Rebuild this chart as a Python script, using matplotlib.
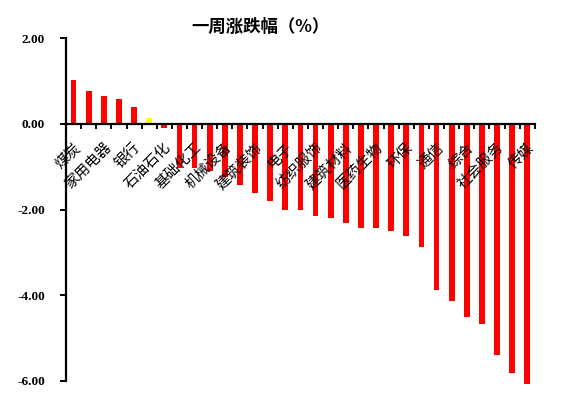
import numpy as np
import matplotlib.pyplot as plt
from matplotlib.font_manager import FontProperties

plt.rcParams['font.family'] = ['Noto Sans CJK SC', 'DejaVu Sans']

industries = ['煤炭', '钢铁', '家用电器', '有色金属', '银行', '非银金融', '石油石化',
              '公用事业', '基础化工', '交通运输', '机械设备', '食品饮料', '建筑装饰',
              '农林牧渔', '电子', '汽车', '纺织服饰', '轻工制造', '建筑材料', '房地产',
              '医药生物', '商贸零售', '环保', '电力设备', '通信', '计算机', '综合',
              '国防军工', '社会服务', '美容护理', '传媒']
weekly_change = [1.03, 0.76, 0.66, 0.58, 0.40, 0.14, -0.10, -1.02, -1.04, -1.11,
                 -1.24, -1.42, -1.61, -1.81, -2.01, -2.02, -2.15, -2.19, -2.32, -2.43,
                 -2.43, -2.50, -2.61, -2.87, -3.87, -4.14, -4.50, -4.67, -5.39, -5.81,
                 -6.07]
highlight = '非银金融'

colors = ['#FFFF00' if name == highlight else '#FF0000' for name in industries]
x = np.arange(len(industries))

fig = plt.figure(figsize=(5.69, 3.94), dpi=100)
ax = fig.add_axes([0.116, 0.0228, 0.824, 0.8797])

ax.bar(x, weekly_change, width=0.38, color=colors, zorder=2)

ax.set_xlim(-0.5, len(industries) - 0.5)
ax.set_ylim(-6.1, 2.0)

# axes lines
for side in ['top', 'right']:
    ax.spines[side].set_visible(False)
ax.spines['bottom'].set_position(('data', 0))
ax.spines['left'].set_bounds(-6, 2)
ax.spines['left'].set_linewidth(1.6)
ax.spines['bottom'].set_linewidth(1.6)
ax.spines['bottom'].set_zorder(3)

num_font = FontProperties(family='Liberation Serif', weight='bold', size=9.5)
ax.set_yticks([2, 0, -2, -4, -6])
ax.set_yticklabels(['%.2f' % v for v in [2, 0, -2, -4, -6]])
for lbl in ax.get_yticklabels():
    lbl.set_fontproperties(num_font)
ax.tick_params(axis='y', length=4, width=1.4, pad=11)

# tick marks between categories, labels on every other category
ax.set_xticks(x[::2])
ax.set_xticklabels([])
ax.set_xticks(np.arange(-0.5, len(industries)), minor=True)
ax.tick_params(axis='x', which='major', length=0)
ax.tick_params(axis='x', which='minor', length=3.5, width=1.4, direction='out')

for i in x[::2]:
    ax.text(i + 0.3, -0.5, industries[i], rotation=45, rotation_mode='anchor',
            ha='right', va='center', fontsize=10.5, zorder=4)

fig.text(0.458, 0.931, '一周涨跌幅（%）', ha='center', va='center',
         fontsize=12.5, fontweight='bold')

fig.savefig('out.png', dpi=100)
